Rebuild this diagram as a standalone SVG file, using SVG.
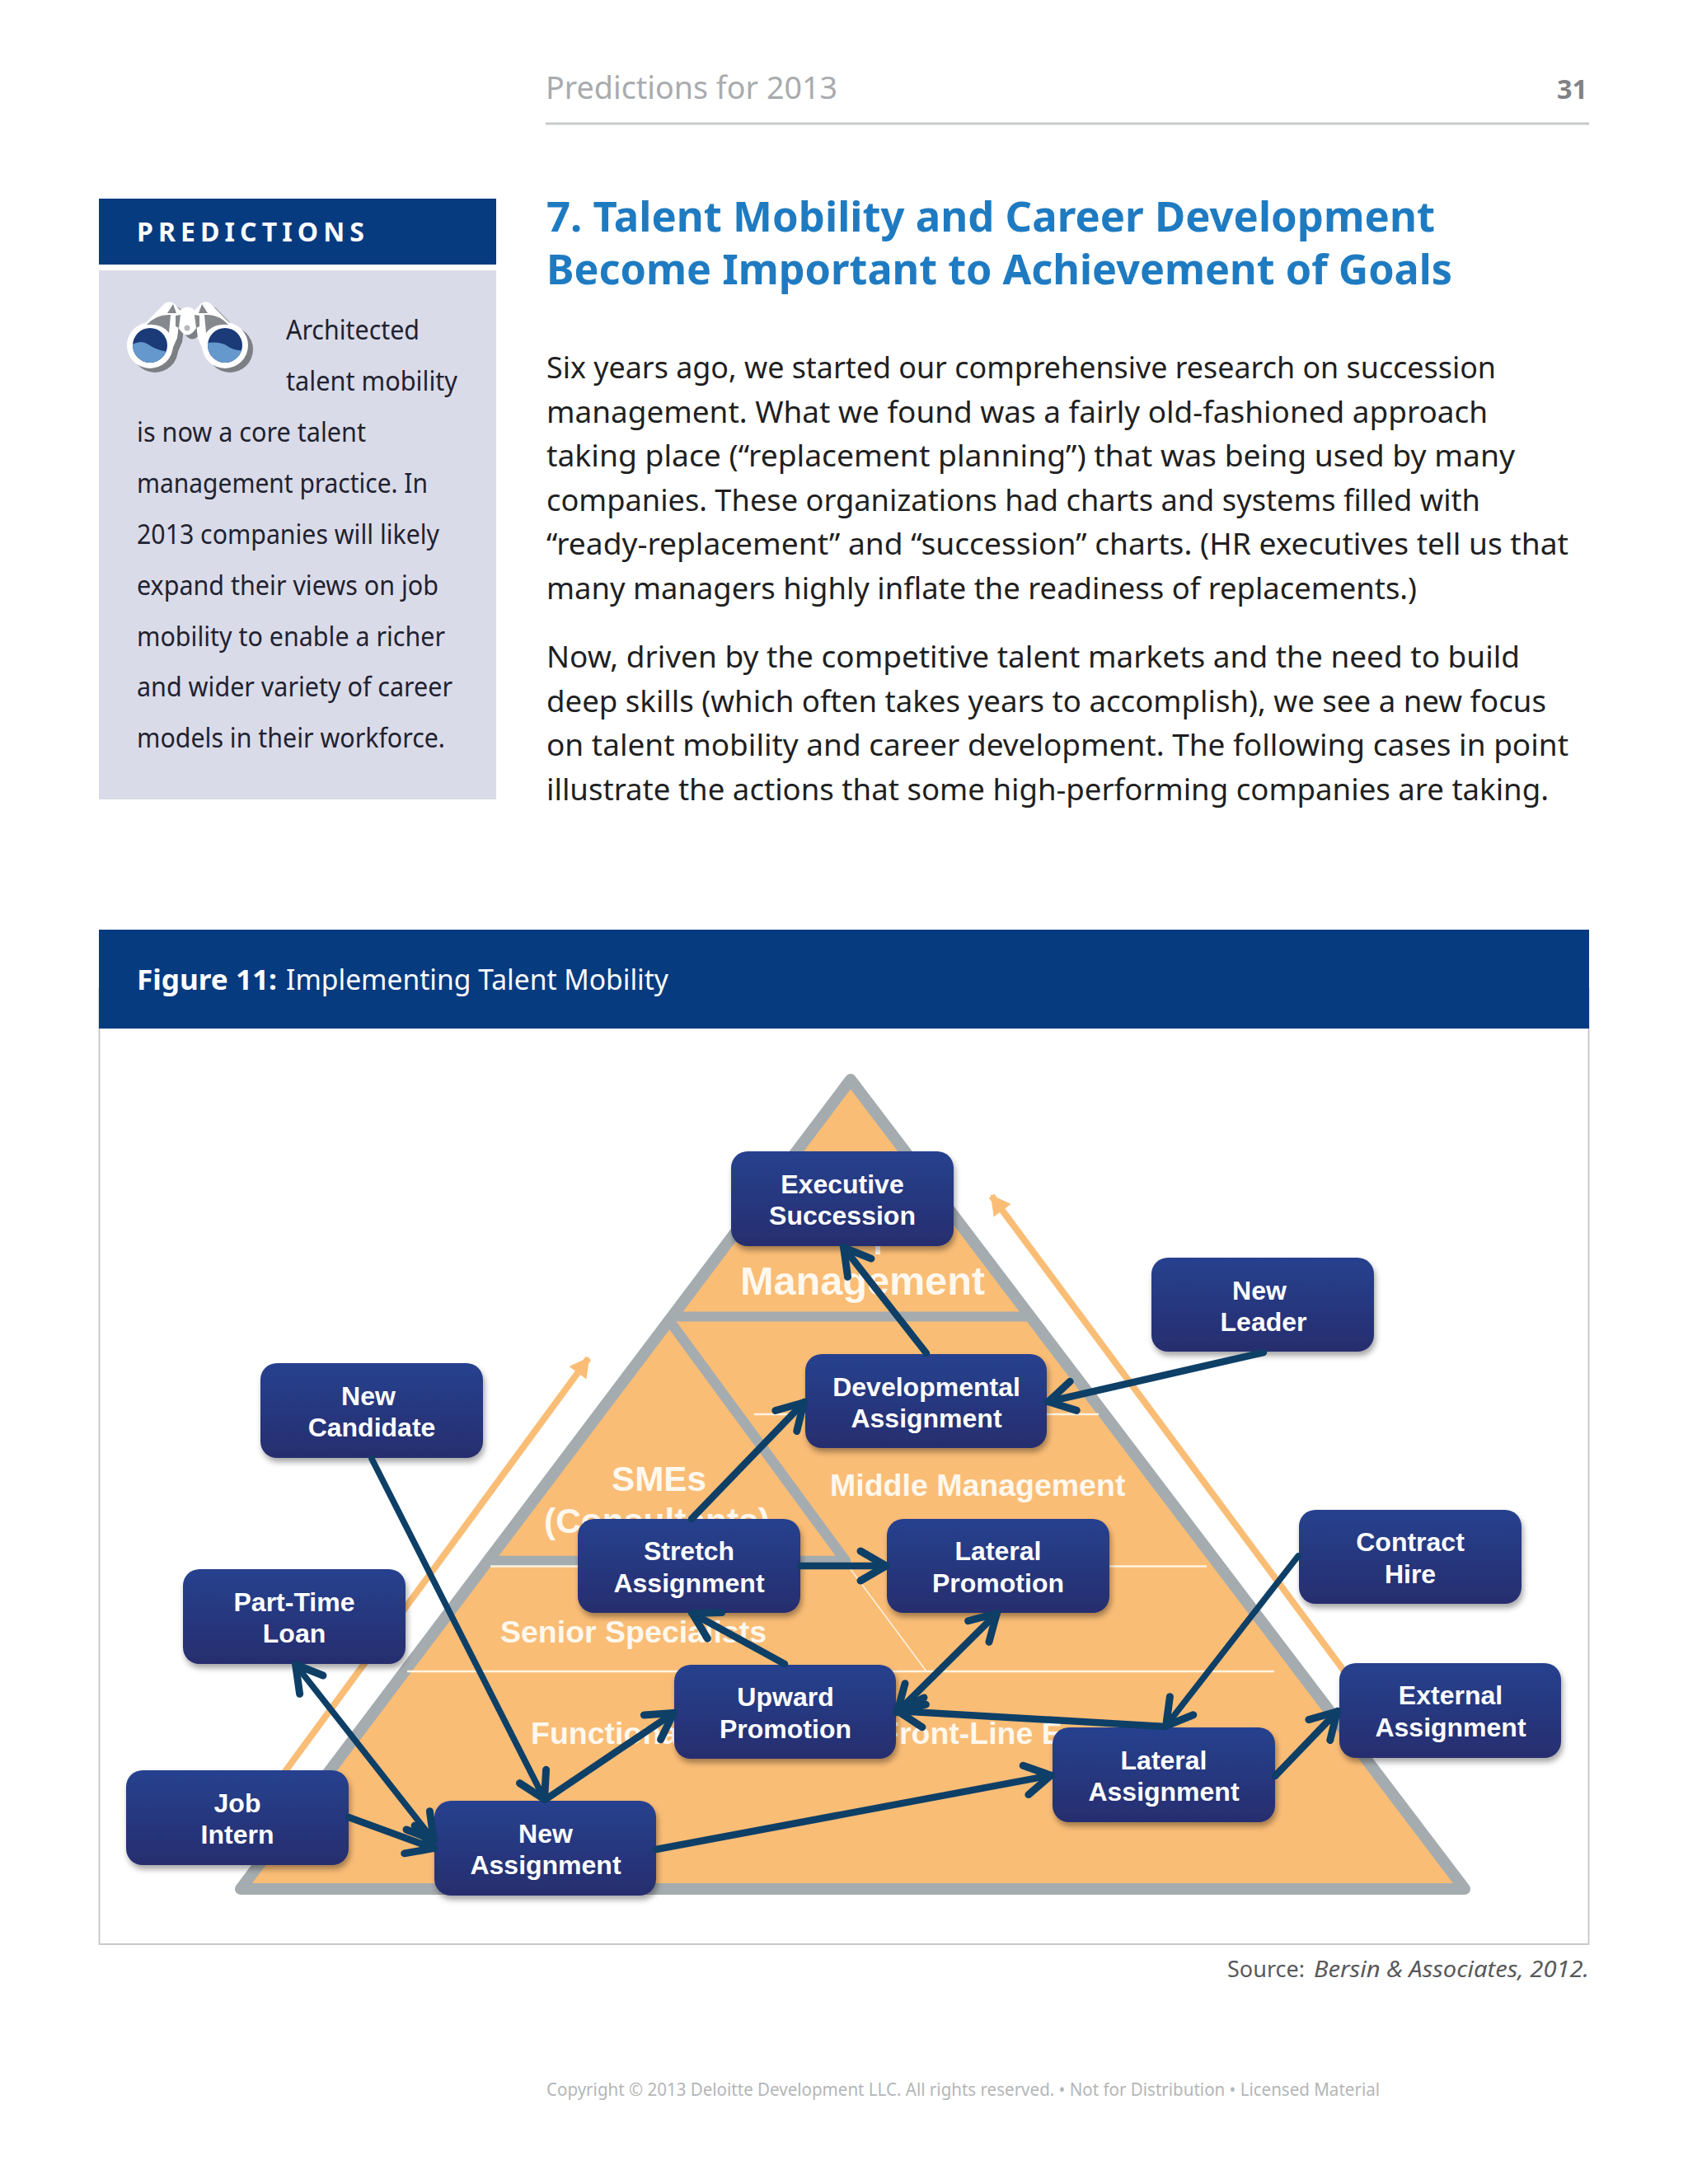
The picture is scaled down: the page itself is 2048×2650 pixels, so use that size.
<svg xmlns="http://www.w3.org/2000/svg" width="2048" height="2650" viewBox="0 0 2048 2650">
<style>
text{font-family:"Noto Sans","Open Sans",sans-serif}
.body{font-size:36px;fill:#1f1f22}
.side{font-size:33px;fill:#1f2230}
.title{font-size:50px;font-weight:700;fill:#1f7bc1}
.py{font-family:"Liberation Sans",Arial,sans-serif;font-weight:700;fill:#fff8ee;font-size:37.5px}
.bx{font-family:"Liberation Sans",Arial,sans-serif;font-weight:700;fill:#fff;font-size:32px;text-anchor:middle}
.box{fill:url(#bg);filter:url(#sh)}
.c{fill:none;stroke:#0e3f66;stroke-width:8.5;stroke-linecap:round;marker-end:url(#ah)}
.two{marker-start:url(#ah)}
.thin{stroke-width:7.5}
.wl{stroke:#fff3e0;stroke-width:2.5;fill:none}
.or{stroke:#f9bd75;stroke-width:8;fill:none;marker-end:url(#oh)}
</style>
<defs>
<linearGradient id="bg" x1="0" y1="0" x2="0" y2="1"><stop offset="0" stop-color="#27418f"/><stop offset="1" stop-color="#252e6e"/></linearGradient>
<filter id="sh" x="-10%" y="-10%" width="120%" height="130%"><feDropShadow dx="2" dy="5" stdDeviation="3.5" flood-color="#000" flood-opacity=".35"/></filter>
<marker id="ah" markerUnits="userSpaceOnUse" markerWidth="50" markerHeight="50" viewBox="-40 -25 50 50" refX="0" refY="0" orient="auto-start-reverse"><path d="M-32,-18 L-1,0 L-32,18" fill="none" stroke="#0e3f66" stroke-width="9" stroke-linecap="round" stroke-linejoin="round"/></marker>
<marker id="oh" markerUnits="userSpaceOnUse" markerWidth="30" markerHeight="30" viewBox="-24 -15 30 30" refX="0" refY="0" orient="auto"><path d="M-22,-13 L2,0 L-22,13 Z" fill="#f9bd75"/></marker>
<clipPath id="lensL"><circle cx="182" cy="419" r="21"/></clipPath>
<clipPath id="lensR"><circle cx="273" cy="419" r="21"/></clipPath>
<g id="binoShape"><circle cx="182" cy="419" r="28"/><circle cx="273" cy="419" r="28"/><path d="M155,414 L198,370 Q205,363 212,369 L219,377 L215,410 L208,426 Z"/><path d="M300,414 L257,370 Q250,363 243,369 L236,377 L240,410 L247,426 Z"/><path d="M215,380 Q227,365 240,380 L240,395 Q227,418 215,395 Z"/></g>
</defs>
<rect width="2048" height="2650" fill="#fff"/>

<g id="page-header">
<text x="662" y="120" font-size="39" fill="#a9abae" textLength="354" lengthAdjust="spacingAndGlyphs">Predictions for 2013</text>
<text x="1889" y="120" font-size="33" font-weight="700" fill="#808285" textLength="37" lengthAdjust="spacingAndGlyphs">31</text>
<rect x="662" y="148.500" width="1266" height="3" fill="#c8c9ca"/>
</g>

<g id="sidebar">
<rect x="120" y="241" width="482" height="80" fill="#073b80"/>
<text x="166" y="293" font-size="32" font-weight="700" fill="#fff" textLength="276" lengthAdjust="spacing">PREDICTIONS</text>
<rect x="120" y="328" width="482" height="642" fill="#dadbe8"/>
<g id="binoculars">
<use href="#binoShape" fill="#7c7f84" transform="translate(6,5)"/>
<use href="#binoShape" fill="#fff"/>
<path d="M178,394 Q190,381 207,382 L205,404 Q196,392 178,394 Z M277,394 Q265,381 248,382 L250,404 Q259,392 277,394 Z M203,380 L210,369 L214,380 Z M252,380 L245,369 L241,380 Z M213,383 L219,382 L217,398 L213,396 Z M242,383 L236,382 L238,398 L242,396 Z" fill="#85888c"/>
<circle cx="182" cy="419" r="21" fill="#1b3a78"/><circle cx="273" cy="419" r="21" fill="#1b3a78"/>
<path clip-path="url(#lensL)" d="M160,418 Q172,412 180,418 T203,427 L203,442 L160,442 Z" fill="#6598cd"/>
<path clip-path="url(#lensR)" d="M252,416 Q268,414 276,420 T295,425 L295,442 L252,442 Z" fill="#6598cd"/>
<circle cx="227" cy="398" r="3.500" fill="#b7b9bd"/>
</g>
<text class="side" x="347" y="412" textLength="162" lengthAdjust="spacingAndGlyphs">Architected</text>
<text class="side" x="347" y="474" textLength="208" lengthAdjust="spacingAndGlyphs">talent mobility</text>
<text class="side" x="166" y="536" textLength="278" lengthAdjust="spacingAndGlyphs">is now a core talent</text>
<text class="side" x="166" y="598" textLength="353" lengthAdjust="spacingAndGlyphs">management practice. In</text>
<text class="side" x="166" y="660" textLength="367" lengthAdjust="spacingAndGlyphs">2013 companies will likely</text>
<text class="side" x="166" y="722" textLength="366" lengthAdjust="spacingAndGlyphs">expand their views on job</text>
<text class="side" x="166" y="784" textLength="374" lengthAdjust="spacingAndGlyphs">mobility to enable a richer</text>
<text class="side" x="166" y="845" textLength="383" lengthAdjust="spacingAndGlyphs">and wider variety of career</text>
<text class="side" x="166" y="907" textLength="374" lengthAdjust="spacingAndGlyphs">models in their workforce.</text>
</g>

<g id="article">
<text class="title" x="663" y="281" textLength="1078" lengthAdjust="spacingAndGlyphs">7. Talent Mobility and Career Development</text>
<text class="title" x="663" y="345" textLength="1099" lengthAdjust="spacingAndGlyphs">Become Important to Achievement of Goals</text>
<text class="body" x="663" y="459" textLength="1152" lengthAdjust="spacingAndGlyphs">Six years ago, we started our comprehensive research on succession</text>
<text class="body" x="663" y="513" textLength="1142" lengthAdjust="spacingAndGlyphs">management. What we found was a fairly old-fashioned approach</text>
<text class="body" x="663" y="566" textLength="1175" lengthAdjust="spacingAndGlyphs">taking place (“replacement planning”) that was being used by many</text>
<text class="body" x="663" y="620" textLength="1133" lengthAdjust="spacingAndGlyphs">companies. These organizations had charts and systems filled with</text>
<text class="body" x="663" y="673" textLength="1240" lengthAdjust="spacingAndGlyphs">“ready-replacement” and “succession” charts. (HR executives tell us that</text>
<text class="body" x="663" y="727" textLength="1056" lengthAdjust="spacingAndGlyphs">many managers highly inflate the readiness of replacements.)</text>
<text class="body" x="663" y="810" textLength="1181" lengthAdjust="spacingAndGlyphs">Now, driven by the competitive talent markets and the need to build</text>
<text class="body" x="663" y="864" textLength="1213" lengthAdjust="spacingAndGlyphs">deep skills (which often takes years to accomplish), we see a new focus</text>
<text class="body" x="663" y="917" textLength="1240" lengthAdjust="spacingAndGlyphs">on talent mobility and career development. The following cases in point</text>
<text class="body" x="663" y="971" textLength="1216" lengthAdjust="spacingAndGlyphs">illustrate the actions that some high-performing companies are taking.</text>
</g>

<g id="figure-frame">
<rect x="120.500" y="1200" width="1807" height="1159" fill="#fff" stroke="#c9cacb" stroke-width="2"/>
<rect x="120" y="1128" width="1808" height="120" fill="#073b80"/>
<text x="166" y="1201" font-size="34" fill="#fff" font-weight="700" textLength="170" lengthAdjust="spacingAndGlyphs">Figure 11:</text>
<text x="347" y="1201" font-size="34" fill="#fff" textLength="464" lengthAdjust="spacingAndGlyphs">Implementing Talent Mobility</text>
</g>

<g id="pyramid">
<path class="or" d="M300,2212 L714,1648"/>
<path class="or" d="M1640,2040 L1203,1451"/>
<polygon points="1032,1310 292,2292 1777,2292" fill="#fabd76" stroke="#a5acaf" stroke-width="14" stroke-linejoin="round"/>
<path d="M816,1597.500 H1250" stroke="#a5acaf" stroke-width="12" fill="none"/>
<path d="M594,1894 H1026 L811,1601" stroke="#a5acaf" stroke-width="12.500" fill="none" stroke-linejoin="round"/>
<path class="wl" d="M915,1716 H1333"/>
<path class="wl" d="M595,1900.500 H1464"/>
<path class="wl" d="M494,2028 H1546"/>
<path class="wl" d="M1032,1904 L1124,2028" style="stroke-width:1.500"/>
<rect x="1062" y="1512" width="6" height="10" fill="#fff8ee"/>
<text class="py" x="898" y="1571" style="font-size:48px" textLength="297" lengthAdjust="spacingAndGlyphs">Management</text>
<text class="py" x="742" y="1809" style="font-size:42px" textLength="115" lengthAdjust="spacingAndGlyphs">SMEs</text>
<text class="py" x="660" y="1860" style="font-size:42px" textLength="274" lengthAdjust="spacingAndGlyphs">(Consultants)</text>
<text class="py" x="1007" y="1815">Middle Management</text>
<text class="py" x="607" y="1993">Senior Specialists</text>
<text class="py" x="644" y="2116">Functional</text>
<text class="py" x="1068" y="2116">Front-Line E</text>
</g>

<g id="node-executive"><rect class="box" x="887" y="1397" width="270" height="115" rx="20"/><text class="bx" x="1022" y="1448">Executive</text><text class="bx" x="1022" y="1486">Succession</text></g>
<g id="node-new-leader"><rect class="box" x="1397" y="1526" width="270" height="114" rx="20"/><text class="bx" x="1528" y="1577">New</text><text class="bx" x="1533" y="1615">Leader</text></g>
<g id="node-developmental"><rect class="box" x="977" y="1643" width="293" height="114" rx="20"/><text class="bx" x="1124" y="1694">Developmental</text><text class="bx" x="1124" y="1732">Assignment</text></g>
<g id="node-new-candidate"><rect class="box" x="316" y="1654" width="270" height="115" rx="20"/><text class="bx" x="447" y="1705">New</text><text class="bx" x="451" y="1743">Candidate</text></g>
<g id="node-stretch"><rect class="box" x="701" y="1843" width="270" height="114" rx="20"/><text class="bx" x="836" y="1893">Stretch</text><text class="bx" x="836" y="1932">Assignment</text></g>
<g id="node-lateral-promotion"><rect class="box" x="1076" y="1843" width="270" height="114" rx="20"/><text class="bx" x="1211" y="1893">Lateral</text><text class="bx" x="1211" y="1932">Promotion</text></g>
<g id="node-contract-hire"><rect class="box" x="1576" y="1832" width="270" height="114" rx="20"/><text class="bx" x="1711" y="1882">Contract</text><text class="bx" x="1711" y="1921">Hire</text></g>
<g id="node-part-time"><rect class="box" x="222" y="1904" width="270" height="115" rx="20"/><text class="bx" x="357" y="1955">Part-Time</text><text class="bx" x="357" y="1993">Loan</text></g>
<g id="node-upward"><rect class="box" x="818" y="2020" width="269" height="114" rx="20"/><text class="bx" x="953" y="2070">Upward</text><text class="bx" x="953" y="2109">Promotion</text></g>
<g id="node-external"><rect class="box" x="1625" y="2018" width="269" height="115" rx="20"/><text class="bx" x="1760" y="2068">External</text><text class="bx" x="1760" y="2107">Assignment</text></g>
<g id="node-lateral-assignment"><rect class="box" x="1277" y="2096" width="270" height="115" rx="20"/><text class="bx" x="1412" y="2147">Lateral</text><text class="bx" x="1412" y="2185">Assignment</text></g>
<g id="node-job-intern"><rect class="box" x="153" y="2148" width="270" height="115" rx="20"/><text class="bx" x="288" y="2199">Job</text><text class="bx" x="288" y="2237">Intern</text></g>
<g id="node-new-assignment"><rect class="box" x="527" y="2185" width="269" height="115" rx="20"/><text class="bx" x="662" y="2236">New</text><text class="bx" x="662" y="2274">Assignment</text></g>

<g id="connectors">
<path class="c" d="M1124,1642 L1023,1513"/>
<path class="c" d="M1533,1641 L1271,1701"/>
<path class="c" d="M839,1843 L976,1701"/>
<path class="c thin" d="M451,1770 L661,2184"/>
<path class="c" d="M661,2184 L818,2078"/>
<path class="c" d="M971,1900 L1076,1900"/>
<path class="c" d="M952,2019 L839,1957"/>
<path class="c two" d="M1088,2078 L1210,1957"/>
<path class="c" d="M1414,2095 L1088,2076"/>
<path class="c thin" d="M1575,1888 L1414,2095"/>
<path class="c" d="M1547,2155 L1623,2076"/>
<path class="c" d="M796,2244 L1276,2154"/>
<path class="c" d="M423,2205 L527,2243"/>
<path class="c two thin" d="M358,2019 L527,2234"/>
</g>

<g id="footer">
<text x="1489" y="2399" font-size="27" fill="#58595b" textLength="94" lengthAdjust="spacingAndGlyphs">Source:</text>
<text x="1594" y="2399" font-size="27" font-style="italic" fill="#58595b" textLength="334" lengthAdjust="spacingAndGlyphs">Bersin &amp; Associates, 2012.</text>
<text x="663" y="2543" font-size="22.500" fill="#b4b6b8" textLength="1011" lengthAdjust="spacingAndGlyphs">Copyright © 2013 Deloitte Development LLC. All rights reserved. • Not for Distribution • Licensed Material</text>
</g>
</svg>
